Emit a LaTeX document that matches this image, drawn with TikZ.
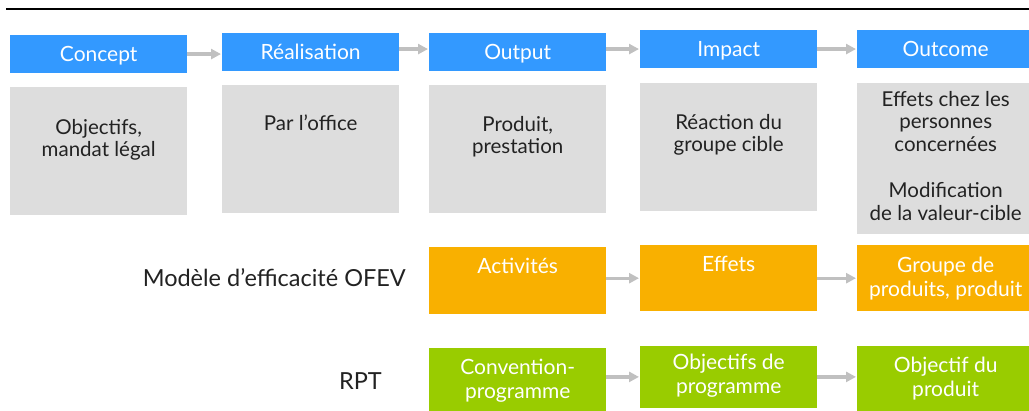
\documentclass[tikz,border=0pt]{standalone}
\usepackage{fontspec}
\setmainfont{Lato}
\usepackage{tikz}
\usetikzlibrary{positioning, calc}
\usetikzlibrary{arrows.meta}
\tikzset{>={Triangle[length=10pt,width=10pt]}}
\usepackage{xcolor}
\definecolor{myblue}{HTML}{3399FF}
\definecolor{mygray}{HTML}{DDDDDD}
\definecolor{myorange}{HTML}{F9B000}
\definecolor{mygreen}{HTML}{99CC00}
\definecolor{myarrow}{HTML}{C0C0C0}
\definecolor{mytext}{HTML}{222222}

\tikzset{
	box/.style={anchor=north west, inner sep=0pt, minimum width=177pt},
	head/.style={box, fill=myblue, text=white, minimum height=37.7pt, text height=15pt, text depth=0pt, font=\fontsize{21}{23}\selectfont},
	panel/.style={box, fill=mygray},
	act/.style={box, fill=myorange, minimum height=66pt},
	rpt/.style={box, fill=mygreen, minimum height=66pt},
	paneltext/.style={anchor=base, align=center, text=mytext, inner sep=0pt, font=\fontsize{20.5}{22.7}\selectfont},
	boxtext/.style={anchor=base, align=center, text=white, inner sep=0pt, font=\fontsize{21}{24}\selectfont},
	rowlabel/.style={anchor=base east, text=mytext, inner sep=0pt, font=\fontsize{23.5}{25}\selectfont},
	flow/.style={->, myarrow, line width=3.3pt, shorten >=1pt}
}

\begin{document}
\begin{tikzpicture}[x=1pt, y=-1pt]
	\useasboundingbox (0,0) rectangle (1029,410);
	\draw [line width=2pt] (6,8.5) -- (1029,8.5);

	% header row
	\node[head] (concept) at (10,35) {Concept};
	\node[head] (real) at (222,33) {Réalisation};
	\node[head] (output) at (429,33) {Output};
	\node[head] (impact) at (640,30) {Impact};
	\node[head] (outcome) at (857,30) {Outcome};

	\draw[flow] (concept.east) -- (concept.east -| real.west);
	\draw[flow] ([yshift=3pt]real.east) -- ([yshift=3pt]real.east -| output.west);
	\draw[flow] ([yshift=3pt]output.east) -- ([yshift=3pt]output.east -| impact.west);
	\draw[flow] (impact.east) -- (impact.east -| outcome.west);

	% descriptions
	\node[panel, minimum height=128pt] (gconcept) at (10,87) {};
	\node[panel, minimum height=127.7pt] (greal) at (222,85) {};
	\node[panel, minimum height=127.7pt] (goutput) at (429,85) {};
	\node[panel, minimum height=127.7pt] (gimpact) at (640,83) {};
	\node[panel, minimum height=150.7pt] (goutcome) at (857,83) {};

	% anchor=base is the last line
	\node[paneltext] (tconcept) at ([yshift=-69.7pt]gconcept.north) {Objectifs,\\mandat légal};
	\node[paneltext] (treal) at ([yshift=-45pt]greal.north) {Par l’office};
	\node[paneltext] (toutput) at ([yshift=-68.7pt]goutput.north) {Produit,\\prestation};
	\node[paneltext] (timpact) at ([yshift=-68.7pt]gimpact.north) {Réaction du\\groupe cible};
	\node[paneltext] (toutcome) at ([yshift=-137.5pt]goutcome.north) {Effets chez les\\personnes\\concernées\\[23.5pt]Modification\\de la valeur-cible};

	% OFEV row
	\node[rowlabel] (lofev) at (406,286.7) {Modèle d’efficacité OFEV};
	\node[act, minimum height=67pt] (activ) at (429,247) {};
	\node[act] (effets) at (640,245) {};
	\node[act] (groupe) at (857,245) {};
	\node[boxtext] (tactiv) at ([yshift=-26.3pt]activ.north) {Activités};
	\node[boxtext] (teffets) at ([yshift=-26.7pt]effets.north) {Effets};
	\node[boxtext] (tgroupe) at ([yshift=-51.7pt]groupe.north) {Groupe de\\produits, produit};
	\draw[flow] (activ.east |- effets.east) -- (effets.west);
	\draw[flow] (effets.east) -- (effets.east -| groupe.west);

	% RPT row
	\node[rowlabel] (lrpt) at (382,389) {RPT};
	\node[rpt, minimum height=70pt] (conv) at (429,348) {};
	\node[rpt, minimum height=62pt] (objprog) at (640,345.7) {};
	\node[rpt, minimum height=70pt] (objprod) at (857,345.7) {};
	\node[boxtext] (tconv) at ([yshift=-50.3pt]conv.north) {Convention-\\programme};
	\node[boxtext] (tobjprog) at ([yshift=-47.6pt]objprog.north) {Objectifs de\\programme};
	\node[boxtext] (tobjprod) at ([yshift=-51pt]objprod.north) {Objectif du\\produit};
	\draw[flow] (conv.east |- objprog.east) -- (objprog.west);
	\draw[flow] (objprog.east) -- (objprog.east -| objprod.west);
\end{tikzpicture}
\end{document}
